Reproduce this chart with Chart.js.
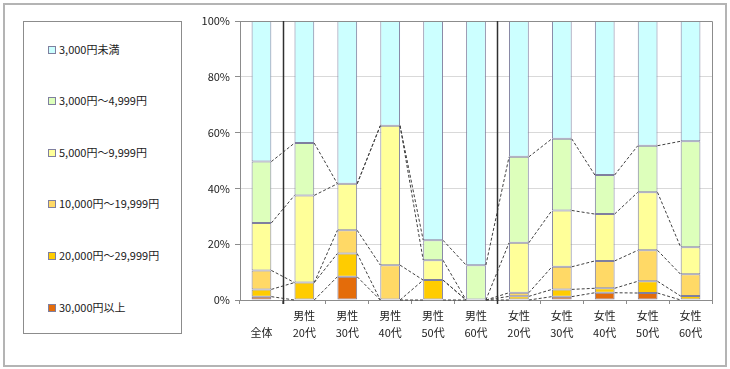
<!DOCTYPE html>
<html>
<head>
<meta charset="utf-8">
<script src="https://cdn.jsdelivr.net/npm/chart.js@4/dist/chart.umd.min.js"></script>
<style>
  body { margin: 0; background: #fff; font-family: "Noto Sans CJK JP", sans-serif; }
  #wrap { position: relative; width: 730px; height: 369px; }
  #frame { position: absolute; left: 3px; top: 3px; width: 720px; height: 360px; border: 2px solid #b4b4b4; }
  #legend { position: absolute; left: 23px; top: 21px; width: 157px; height: 311px; border: 1px solid #8c8c8c; }
  .item { position: absolute; left: 24px; font-size: 11px; color: #222; line-height: 14px; white-space: nowrap; }
  .box { display: inline-block; width: 6px; height: 6px; border: 1px solid #7f7f9f; margin-right: 3px; vertical-align: 0px; }
  canvas { position: absolute; left: 0; top: 0; }
</style>
</head>
<body>
<div id="wrap">
  <div id="frame"></div>
  <div id="legend"></div>
  <canvas id="chart" width="730" height="369"></canvas>
</div>
<script>
// categories
var categories = [['', '全体'], ['男性', '20代'], ['男性', '30代'], ['男性', '40代'], ['男性', '50代'], ['男性', '60代'],
                  ['女性', '20代'], ['女性', '30代'], ['女性', '40代'], ['女性', '50代'], ['女性', '60代']];

// shares in % (bottom segment first)
var over30000 = [1.2, 0, 8.33, 0, 0, 0, 0, 1.2, 2.6, 2.5, 0];
var from20000 = [2.6, 6.25, 8.33, 0, 7.14, 0, 1.3, 2.6, 1.6, 4.2, 1.4];
var from10000 = [6.8, 0, 8.33, 12.5, 0, 0, 1.3, 8.1, 9.8, 11.1, 7.8];
var from5000 = [17.0, 31.25, 16.67, 50, 7.14, 0, 17.9, 20.2, 16.8, 20.8, 9.7];
var from3000 = [22.0, 18.75, 0, 0, 7.14, 12.5, 30.8, 25.7, 14.0, 16.7, 38.0];
var under3000 = [50.4, 43.75, 58.33, 37.5, 78.57, 87.5, 48.7, 42.2, 55.2, 44.7, 43.1];

var seriesNames = ['30,000円以上', '20,000円～29,999円', '10,000円～19,999円', '5,000円～9,999円', '3,000円～4,999円', '3,000円未満'];
var seriesColors = ['#e46c0a', '#ffcc00', '#ffd966', '#ffff99', '#ddffbb', '#ccffff'];
var seriesData = [over30000, from20000, from10000, from5000, from3000, under3000];

// group separators after these category indexes
var separators = [0, 5];

var datasets = seriesData.map(function (d, i) {
    return {
        label: seriesNames[i],
        data: d,
        backgroundColor: seriesColors[i],
        borderColor: '#7f7f9f',
        borderWidth: 1,
        borderSkipped: false
    };
});

// dashed series lines + separators + plot border
var extras = {
    id: 'extras',
    afterDatasetsDraw: function (chart) {
        var ctx = chart.ctx;
        var area = chart.chartArea;
        ctx.save();
        ctx.strokeStyle = '#404040';
        ctx.lineWidth = 1;
        ctx.setLineDash([3, 2]);
        // top series always ends at 100%, no line there
        for (var i = 0; i < chart.data.datasets.length - 1; i++) {
            var bars = chart.getDatasetMeta(i).data;
            for (var k = 0; k < bars.length - 1; k++) {
                var a = bars[k], b = bars[k + 1];
                ctx.beginPath();
                ctx.moveTo(a.x + a.width / 2, a.y);
                ctx.lineTo(b.x - b.width / 2, b.y);
                ctx.stroke();
            }
        }
        ctx.setLineDash([]);

        ctx.strokeStyle = '#8c8c8c';
        ctx.beginPath();
        ctx.moveTo(area.left, area.top + 0.5);
        ctx.lineTo(area.right + 0.5, area.top + 0.5);
        ctx.lineTo(area.right + 0.5, area.bottom);
        ctx.stroke();

        var x = chart.scales.x;
        var step = (area.right - area.left) / categories.length;
        ctx.strokeStyle = '#303030';
        ctx.lineWidth = 1.5;
        separators.forEach(function (i) {
            var px = Math.round(x.getPixelForValue(i) + step / 2) + 0.5;
            ctx.beginPath();
            ctx.moveTo(px, area.top);
            ctx.lineTo(px, area.bottom + 4);
            ctx.stroke();
        });
        ctx.restore();
    }
};

var ctx = document.getElementById('chart').getContext('2d');
var chart = new Chart(ctx, {
    type: 'bar',
    data: { labels: categories, datasets: datasets },
    options: {
        responsive: false,
        animation: false,
        layout: { padding: { left: 195, top: 21, right: 18, bottom: 0 } },
        plugins: { legend: { display: false }, tooltip: { enabled: false } },
        datasets: { bar: { barPercentage: 0.46, categoryPercentage: 1 } },
        scales: {
            x: {
                stacked: true,
                afterFit: function (s) { s.height = 69; },
                grid: { offset: true, drawOnChartArea: false, tickLength: 4, tickColor: '#8c8c8c' },
                border: { color: '#8c8c8c' },
                ticks: { color: '#222', padding: 3, font: { family: 'Noto Sans CJK JP', size: 11, lineHeight: 1.55 }, maxRotation: 0 }
            },
            y: {
                stacked: true,
                min: 0,
                max: 100,
                afterFit: function (s) { s.width = 45; },
                grid: { color: '#d9d9d9', tickLength: 5, tickColor: '#8c8c8c' },
                border: { color: '#8c8c8c' },
                ticks: {
                    stepSize: 20,
                    padding: 5,
                    color: '#222',
                    font: { family: 'Noto Sans CJK JP', size: 11 },
                    callback: function (v) { return v + '%'; }
                }
            }
        }
    },
    plugins: [extras]
});

// legend, top item = top segment
var legend = document.getElementById('legend');
var tops = [27, 78, 130, 181, 233, 285];
for (var i = 0; i < seriesNames.length; i++) {
    var j = seriesNames.length - 1 - i;
    var el = document.createElement('div');
    el.className = 'item';
    el.style.top = (tops[i] - 7) + 'px';
    el.innerHTML = '<span class="box" style="background:' + seriesColors[j] + '"></span>' + seriesNames[j];
    legend.appendChild(el);
}
</script>
</body>
</html>
